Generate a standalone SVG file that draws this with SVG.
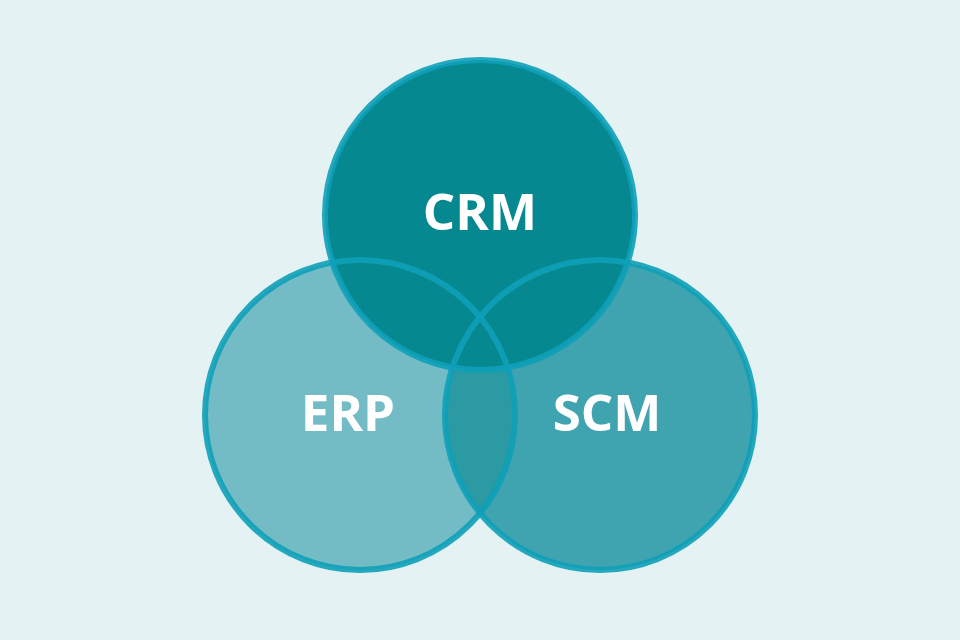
<svg xmlns="http://www.w3.org/2000/svg" width="960" height="640" viewBox="0 0 960 640">
<style>
.lbl{font-family:"Open Sans","Liberation Sans",sans-serif;font-weight:bold;font-size:51px;fill:#ffffff;text-anchor:middle}
.ring{fill:none;stroke:#0ea0b8;stroke-width:6;stroke-opacity:0.9}
</style>
<defs><clipPath id="cE"><circle cx="360" cy="415" r="155"/></clipPath></defs>
<rect width="960" height="640" fill="#e4f2f3"/>
<g id="erp"><circle cx="360" cy="415" r="155" fill="#74bcc5"/></g>
<g id="scm"><circle cx="600" cy="415" r="155" fill="#3fa4af"/>
<circle cx="600" cy="415" r="155" fill="#2b9aa3" clip-path="url(#cE)"/></g>
<g id="crm"><circle cx="480" cy="215" r="155" fill="#05888f"/></g>
<g id="rings">
<circle class="ring" cx="360" cy="415" r="155"/>
<circle class="ring" cx="600" cy="415" r="155"/>
<circle class="ring" cx="480" cy="215" r="155"/>
</g>
<text class="lbl" x="480" y="230">CRM</text>
<text class="lbl" x="348" y="431">ERP</text>
<text class="lbl" x="607" y="431">SCM</text>
</svg>
